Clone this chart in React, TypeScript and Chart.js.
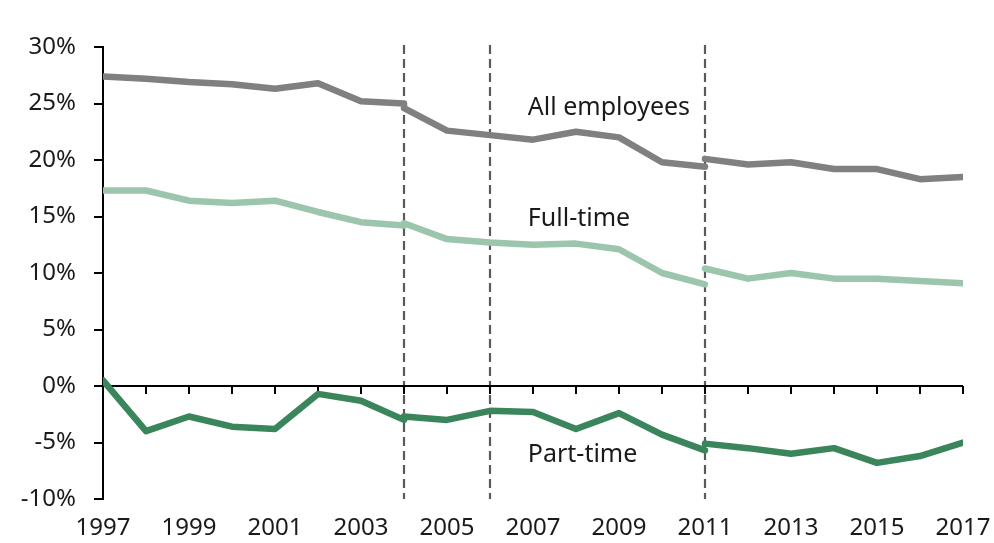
import React, { useEffect, useRef } from "react";
import { Chart, registerables } from "chart.js";

Chart.register(...registerables);

// Years for each segment (series are re-based in 2004 and 2011)
const seg1Years = [1997, 1998, 1999, 2000, 2001, 2002, 2003, 2004];
const seg2Years = [2004, 2005, 2006, 2007, 2008, 2009, 2010, 2011];
const seg3Years = [2011, 2012, 2013, 2014, 2015, 2016, 2017];

const allSeg1 = [27.4, 27.2, 26.9, 26.7, 26.3, 26.8, 25.2, 25.0];
const allSeg2 = [24.6, 22.6, 22.2, 21.8, 22.5, 22.0, 19.8, 19.4];
const allSeg3 = [20.1, 19.6, 19.8, 19.2, 19.2, 18.3, 18.5];

const fullSeg1 = [17.3, 17.3, 16.4, 16.2, 16.4, 15.4, 14.5, 14.2];
const fullSeg2 = [14.4, 13.0, 12.7, 12.5, 12.6, 12.1, 10.0, 9.0];
const fullSeg3 = [10.4, 9.5, 10.0, 9.5, 9.5, 9.3, 9.1];

const partSeg1 = [0.5, -4.0, -2.7, -3.6, -3.8, -0.7, -1.3, -3.0];
const partSeg2 = [-2.7, -3.0, -2.2, -2.3, -3.8, -2.4, -4.3, -5.7];
const partSeg3 = [-5.1, -5.5, -6.0, -5.5, -6.8, -6.2, -5.0];

const breakYears = [2004, 2006, 2011];

const yTicks = { min: -10, max: 30, step: 5 };
const xRange = { min: 1997, max: 2017, labelStep: 2 };

const seriesLabels = [
  { text: "All employees", x: 2006.88, y: 24.6 },
  { text: "Full-time", x: 2006.88, y: 14.75 },
  { text: "Part-time", x: 2006.88, y: -6.1 },
];

const FONT = "'Noto Sans', 'Open Sans', sans-serif";

function buildPoints(a: number[], b: number[], c: number[]) {
  const pts: { x: number; y: number | null }[] = [];
  seg1Years.forEach((yr, i) => pts.push({ x: yr, y: a[i] }));
  seg2Years.forEach((yr, i) => pts.push({ x: yr, y: b[i] }));
  pts.push({ x: 2011, y: null });
  seg3Years.forEach((yr, i) => pts.push({ x: yr, y: c[i] }));
  return pts;
}

const decorPlugin = {
  id: "decor",
  beforeDatasetsDraw(chart: any) {
    const { ctx, chartArea, scales } = chart;
    const x = scales.x;
    const y = scales.y;
    ctx.save();
    ctx.strokeStyle = "#5a5a5a";
    ctx.lineWidth = 2.2;
    ctx.setLineDash([9, 5]);
    breakYears.forEach((yr) => {
      const px = x.getPixelForValue(yr);
      ctx.beginPath();
      ctx.moveTo(px, chartArea.top - 2);
      ctx.lineTo(px, chartArea.bottom);
      ctx.stroke();
    });
    ctx.setLineDash([]);
    const y0 = y.getPixelForValue(0);
    ctx.strokeStyle = "#000";
    ctx.lineWidth = 2;
    ctx.beginPath();
    ctx.moveTo(chartArea.left, y0);
    ctx.lineTo(chartArea.right, y0);
    ctx.stroke();
    for (let yr = xRange.min + 1; yr <= xRange.max; yr++) {
      const px = x.getPixelForValue(yr);
      ctx.beginPath();
      ctx.moveTo(px, y0);
      ctx.lineTo(px, y0 + 8);
      ctx.stroke();
    }
    ctx.restore();
  },
  afterDatasetsDraw(chart: any) {
    const { ctx, scales } = chart;
    ctx.save();
    ctx.fillStyle = "#1a1a1a";
    ctx.font = `25px ${FONT}`;
    ctx.textAlign = "left";
    ctx.textBaseline = "middle";
    seriesLabels.forEach((l) => {
      ctx.fillText(l.text, scales.x.getPixelForValue(l.x), scales.y.getPixelForValue(l.y));
    });
    ctx.restore();
  },
};

export default function App() {
  const ref = useRef<HTMLCanvasElement>(null);
  useEffect(() => {
    if (!ref.current) return;
    const common = {
      borderWidth: 6.5,
      pointRadius: 0,
      tension: 0,
      spanGaps: false,
      borderJoinStyle: "round" as const,
      borderCapStyle: "round" as const,
    };
    const chart = new Chart(ref.current, {
      type: "line",
      data: {
        datasets: [
          { ...common, label: "All employees", data: buildPoints(allSeg1, allSeg2, allSeg3) as any, borderColor: "#808080" },
          { ...common, label: "Full-time", data: buildPoints(fullSeg1, fullSeg2, fullSeg3) as any, borderColor: "#9cc5ad" },
          { ...common, label: "Part-time", data: buildPoints(partSeg1, partSeg2, partSeg3) as any, borderColor: "#3a855b" },
        ],
      },
      options: {
        animation: false,
        responsive: false,
        maintainAspectRatio: false,
        layout: { padding: { top: 47, right: 31, bottom: 0, left: 0 } },
        plugins: { legend: { display: false }, tooltip: { enabled: false } },
        scales: {
          x: {
            type: "linear",
            min: xRange.min,
            max: xRange.max,
            afterFit: (s: any) => { s.height = 44; s.paddingRight = 0; s.paddingLeft = 0; },
            grid: { display: false, drawTicks: false },
            border: { display: false },
            ticks: {
              stepSize: 1,
              autoSkip: false,
              maxRotation: 0,
              padding: 15,
              color: "#1a1a1a",
              font: { family: FONT, size: 24 },
              callback: (v: any) => ((v - xRange.min) % xRange.labelStep === 0 ? String(v) : ""),
            },
          },
          y: {
            min: yTicks.min,
            max: yTicks.max,
            afterFit: (s: any) => { s.width = 103; s.paddingTop = 0; s.paddingBottom = 0; },
            grid: { drawOnChartArea: false, drawTicks: true, tickLength: 9, color: "#000", lineWidth: 2 },
            border: { display: true, color: "#000", width: 2 },
            ticks: {
              stepSize: yTicks.step,
              padding: 18,
              color: "#1a1a1a",
              font: { family: FONT, size: 24 },
              callback: (v: any) => `${v}%`,
            },
          },
        },
      },
      plugins: [decorPlugin],
    });
    return () => chart.destroy();
  }, []);
  return (
    <div style={{ position: "absolute", left: 0, top: 0, width: 994, height: 543, background: "#fff" }}>
      <canvas ref={ref} width={994} height={543} style={{ width: 994, height: 543 }} />
    </div>
  );
}
